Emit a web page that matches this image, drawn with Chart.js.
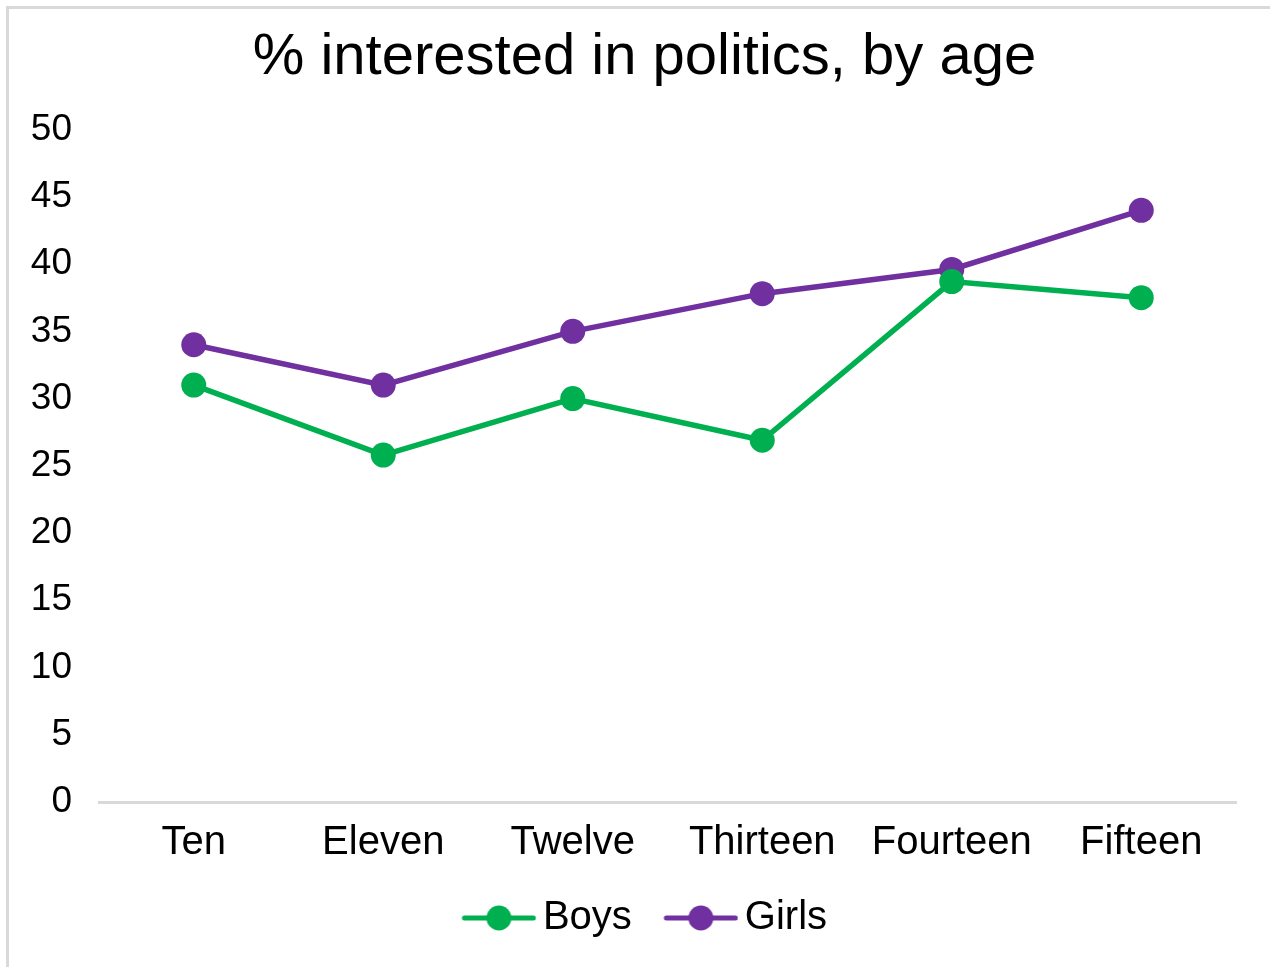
<!DOCTYPE html>
<html>
<head>
<meta charset="utf-8">
<script src="https://cdn.jsdelivr.net/npm/chart.js@4/dist/chart.umd.min.js"></script>
<style>
  html, body { margin: 0; padding: 0; background: #fff; }
  #frame {
    position: absolute; left: 6px; top: 6px; width: 1300px; height: 1000px;
    border-top: 3px solid #d9d9d9; border-left: 3px solid #d9d9d9;
  }
  #wrap { position: absolute; left: 0; top: 0; width: 1270px; height: 967px; }
</style>
</head>
<body>
<div id="frame"></div>
<div id="wrap"><canvas id="ageChart"></canvas></div>
<script>
var ages = ["Ten", "Eleven", "Twelve", "Thirteen", "Fourteen", "Fifteen"];
var boys = [31, 25.8, 30, 26.9, 38.7, 37.5];
var girls = [34, 31, 35, 37.8, 39.6, 44];
var yTicks = [0, 5, 10, 15, 20, 25, 30, 35, 40, 45, 50];

var green = '#00b050';
var purple = '#7030a0';
var fontName = "'Liberation Sans', Arial, Helvetica, sans-serif";

// legend picture: line with a dot, blank on the left to space the items out
function legendMark(color) {
  var c = document.createElement('canvas');
  c.width = 110;
  c.height = 28;
  var g = c.getContext('2d');
  g.strokeStyle = color;
  g.lineWidth = 5;
  g.lineCap = 'round';
  g.beginPath();
  g.moveTo(38, 14);
  g.lineTo(107, 14);
  g.stroke();
  g.fillStyle = color;
  g.beginPath();
  g.arc(72.5, 14, 12.5, 0, Math.PI * 2);
  g.fill();
  return c;
}

// the title sits a little right of the canvas centre in the original
var nudgeTitle = {
  id: 'nudgeTitle',
  afterLayout: function (chart) {
    if (chart.titleBlock) {
      chart.titleBlock.left += 11;
      chart.titleBlock.right += 11;
    }
  }
};

var ctx = document.getElementById("ageChart");
var myChart = new Chart(ctx, {
  type: 'line',
  data: {
    labels: ages,
    datasets: [{
      label: 'Boys',
      data: boys,
      borderColor: green,
      backgroundColor: green,
      borderWidth: 5.5,
      pointRadius: 12.5,
      pointHoverRadius: 12.5,
      pointBorderWidth: 0,
      tension: 0
    }, {
      label: 'Girls',
      data: girls,
      borderColor: purple,
      backgroundColor: purple,
      borderWidth: 5.5,
      pointRadius: 12.5,
      pointHoverRadius: 12.5,
      pointBorderWidth: 0,
      tension: 0
    }]
  },
  plugins: [nudgeTitle],
  options: {
    responsive: true,
    maintainAspectRatio: false,
    animation: false,
    layout: { padding: { left: 31, right: 34, top: 0, bottom: 19 } },
    plugins: {
      tooltip: { enabled: false },
      title: {
        display: true,
        text: '% interested in politics, by age',
        color: '#000',
        font: { family: fontName, size: 58, weight: 'normal', lineHeight: 1.2 },
        padding: { top: 23, bottom: 37 }
      },
      legend: {
        position: 'bottom',
        labels: {
          color: '#000',
          font: { family: fontName, size: 40 },
          usePointStyle: true,
          pointStyleWidth: 83,
          boxHeight: 28,
          padding: 10,
          generateLabels: function (chart) {
            return chart.data.datasets.map(function (ds, i) {
              return {
                text: ds.label,
                fontColor: '#000',
                pointStyle: legendMark(ds.borderColor),
                datasetIndex: i,
                hidden: false,
                lineWidth: 0
              };
            });
          }
        }
      }
    },
    scales: {
      x: {
        offset: true,
        grid: { display: false, drawTicks: false, tickLength: 0 },
        border: { display: true, color: '#d9d9d9', width: 3 },
        afterFit: function (axis) { axis.height = 86; },
        ticks: {
          color: '#000',
          padding: 17,
          maxRotation: 0,
          font: { family: fontName, size: 40 }
        }
      },
      y: {
        min: 0,
        max: 50,
        afterBuildTicks: function (axis) {
          axis.ticks = yTicks.map(function (v) { return { value: v }; });
        },
        afterFit: function (axis) { axis.width = 68; },
        grid: { display: false, drawTicks: false, tickLength: 0 },
        border: { display: false },
        ticks: {
          color: '#000',
          padding: 27,
          font: { family: fontName, size: 37 }
        }
      }
    }
  }
});
</script>
</body>
</html>
